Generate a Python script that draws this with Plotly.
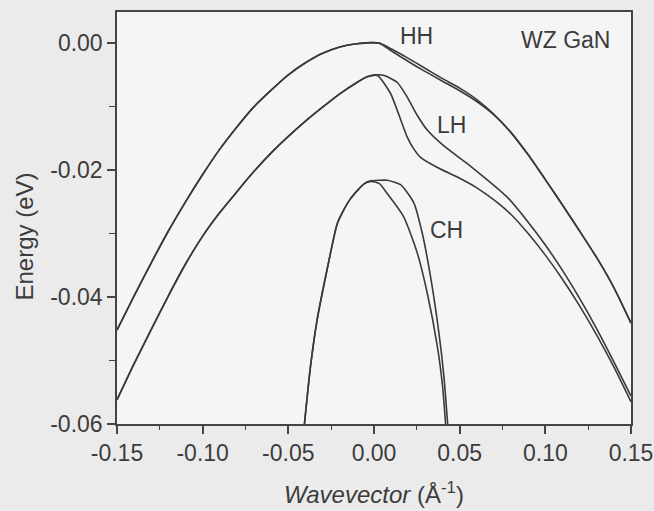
import plotly.graph_objects as go

# ---- data (wavevector in 1/Å, energy in eV) ----
hh1_k = [-0.150, -0.140, -0.130, -0.120, -0.110, -0.100, -0.090, -0.080, -0.070, -0.060, -0.050, -0.040, -0.030,
         -0.020, -0.010, 0.003, 0.010, 0.020, 0.030, 0.040, 0.050, 0.060, 0.070, 0.080, 0.090, 0.100, 0.110, 0.120,
         0.130, 0.140, 0.150]
hh1_e = [-0.0452, -0.0398, -0.0346, -0.0296, -0.0250, -0.0207, -0.0167, -0.0132, -0.0100, -0.0074, -0.0050, -0.0031,
         -0.0016, -0.0006, -0.0001, 0.0000, -0.0009, -0.0024, -0.0040, -0.0056, -0.0071, -0.0089, -0.0112, -0.0141,
         -0.0176, -0.0215, -0.0255, -0.0296, -0.0338, -0.0385, -0.0441]

hh2_k = [-0.150, -0.140, -0.130, -0.120, -0.110, -0.100, -0.090, -0.080, -0.070, -0.060, -0.050, -0.040, -0.030,
         -0.020, -0.010, 0.003, 0.010, 0.020, 0.030, 0.040, 0.050, 0.060, 0.070, 0.080, 0.090, 0.100, 0.110, 0.120,
         0.130, 0.140, 0.150]
hh2_e = [-0.0452, -0.0398, -0.0346, -0.0296, -0.0250, -0.0207, -0.0167, -0.0132, -0.0100, -0.0074, -0.0050, -0.0031,
         -0.0016, -0.0006, -0.0001, 0.0000, -0.0012, -0.0029, -0.0045, -0.0060, -0.0075, -0.0092, -0.0113, -0.0141,
         -0.0176, -0.0215, -0.0255, -0.0296, -0.0338, -0.0385, -0.0441]

lh1_k = [-0.150, -0.140, -0.130, -0.120, -0.110, -0.100, -0.090, -0.080, -0.070, -0.060, -0.050, -0.040, -0.030,
         -0.020, -0.010, -0.004, 0.002, 0.006, 0.0136, 0.0194, 0.0253, 0.0311, 0.0408, 0.0564, 0.0779, 0.090, 0.100,
         0.110, 0.120, 0.130, 0.140, 0.150]
lh1_e = [-0.0562, -0.0505, -0.0451, -0.0398, -0.0348, -0.0304, -0.0267, -0.0234, -0.0202, -0.0173, -0.0147, -0.0123,
         -0.0101, -0.0080, -0.0062, -0.0053, -0.0050, -0.0051, -0.0062, -0.0085, -0.0114, -0.0137, -0.0162, -0.0194,
         -0.0243, -0.0282, -0.0318, -0.0358, -0.0402, -0.0450, -0.0502, -0.0556]

lh2_k = [-0.150, -0.140, -0.130, -0.120, -0.110, -0.100, -0.090, -0.080, -0.070, -0.060, -0.050, -0.040, -0.030,
         -0.020, -0.010, -0.004, 0.002, 0.0096, 0.0136, 0.0194, 0.0233, 0.0272, 0.037, 0.050, 0.060, 0.070, 0.080,
         0.090, 0.100, 0.110, 0.120, 0.130, 0.140, 0.150]
lh2_e = [-0.0562, -0.0505, -0.0451, -0.0398, -0.0348, -0.0304, -0.0267, -0.0234, -0.0202, -0.0173, -0.0147, -0.0123,
         -0.0101, -0.0080, -0.0062, -0.0053, -0.0051, -0.0079, -0.0106, -0.0148, -0.0167, -0.0180, -0.0196, -0.0213,
         -0.0228, -0.0247, -0.0270, -0.0300, -0.0334, -0.0372, -0.0414, -0.0460, -0.0510, -0.0565]

ch1_k = [-0.0406, -0.0371, -0.0332, -0.0274, -0.0215, -0.0175, -0.0137, -0.006, -0.002, 0.003, 0.0077, 0.0174,
         0.0253, 0.0311, 0.037, 0.040, 0.0418]
ch1_e = [-0.0600, -0.0510, -0.0436, -0.0357, -0.0285, -0.0262, -0.0245, -0.0222, -0.0218, -0.0221, -0.0237, -0.0274,
         -0.0331, -0.0394, -0.0478, -0.0540, -0.0600]

ch2_k = [-0.0406, -0.0371, -0.0332, -0.0274, -0.0215, -0.0175, -0.0137, -0.006, -0.002, 0.003, 0.0077, 0.0155,
         0.0233, 0.0282, 0.033, 0.0379, 0.0408, 0.0430]
ch2_e = [-0.0600, -0.0510, -0.0436, -0.0357, -0.0285, -0.0262, -0.0245, -0.0222, -0.0217, -0.0216, -0.0216, -0.0223,
         -0.0252, -0.0300, -0.0368, -0.0457, -0.0525, -0.0600]

x_ticks = [-0.15, -0.10, -0.05, 0.00, 0.05, 0.10, 0.15]
x_ticktext = ["-0.15", "-0.10", "-0.05", "0.00", "0.05", "0.10", "0.15"]
x_minor = [-0.125, -0.075, -0.025, 0.025, 0.075, 0.125]
y_ticks = [0.00, -0.02, -0.04, -0.06]
y_ticktext = ["0.00", "-0.02", "-0.04", "-0.06"]
y_minor = [-0.01, -0.03, -0.05]

band_labels = ["HH", "LH", "CH", "WZ GaN"]
label_k = [0.0246, 0.0453, 0.0424, 0.112]
label_e = [0.0011, -0.0129, -0.0294, 0.0005]

LINE = "#3a3a3c"
FONT = "Liberation Sans, Arial, sans-serif"

fig = go.Figure()
for k, e in [(hh1_k, hh1_e), (hh2_k, hh2_e), (lh1_k, lh1_e), (lh2_k, lh2_e), (ch1_k, ch1_e), (ch2_k, ch2_e)]:
    fig.add_trace(go.Scatter(x=k, y=e, mode="lines",
                             line=dict(color=LINE, width=1.6, shape="spline", smoothing=0.6),
                             showlegend=False, hoverinfo="skip"))

for t, kx, ey in zip(band_labels, label_k, label_e):
    fig.add_annotation(x=kx, y=ey, xref="x", yref="y", text=t, showarrow=False,
                       font=dict(family=FONT, size=23, color="#3c3c3c"),
                       xanchor="center", yanchor="middle")

fig.add_annotation(x=-0.179, y=0.455, xref="paper", yref="paper", text="Energy (eV)",
                   textangle=-90, showarrow=False, xanchor="center", yanchor="middle",
                   font=dict(family=FONT, size=24, color="#3c3c3c"))
fig.add_annotation(x=0.5, y=-0.168, xref="paper", yref="paper",
                   text="<i>Wavevector</i> (Å<sup>-1</sup>)",
                   showarrow=False, xanchor="center", yanchor="middle",
                   font=dict(family=FONT, size=24, color="#3c3c3c"))

axis_common = dict(showgrid=False, zeroline=False, showline=True, mirror=True, automargin=False,
                   linecolor="#444444", linewidth=1.5, ticks="outside", ticklen=8,
                   tickwidth=1.5, tickcolor="#444444",
                   tickfont=dict(family=FONT, size=23, color="#3c3c3c"))

fig.update_xaxes(range=[-0.15, 0.15], tickmode="array", tickvals=x_ticks, ticktext=x_ticktext,
                 minor=dict(tickmode="array", tickvals=x_minor, ticks="outside", ticklen=4,
                            tickwidth=1.2, tickcolor="#444444"),
                 **axis_common)
fig.update_yaxes(range=[-0.06, 0.0049], tickmode="array", tickvals=y_ticks, ticktext=y_ticktext,
                 minor=dict(tickmode="array", tickvals=y_minor, ticks="outside", ticklen=6,
                            tickwidth=1.2, tickcolor="#444444"),
                 **axis_common)

fig.update_layout(width=654, height=511, autosize=False,
                  margin=dict(l=117, r=23, t=12, b=87),
                  paper_bgcolor="#ebebeb", plot_bgcolor="#f5f5f5",
                  showlegend=False)

fig.write_html("out.html", config={"displayModeBar": False},
               post_script="document.body.style.margin='0';document.body.style.overflow='hidden';")
